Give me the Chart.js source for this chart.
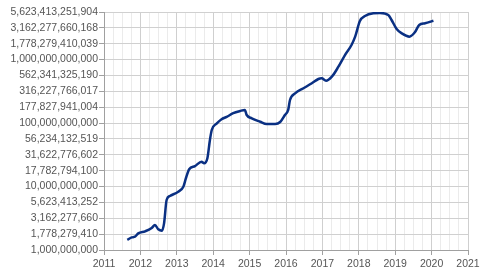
<!DOCTYPE html>
<html>
<head>
<meta charset="utf-8">
<script src="https://cdn.jsdelivr.net/npm/chart.js@4"></script>
<style>
  html, body { margin: 0; padding: 0; background: #fff; }
</style>
</head>
<body>
<canvas id="myChart" width="490" height="276"></canvas>
<script>
// decimal years
const years = [2011.64, 2011.76, 2011.85, 2011.94, 2012.13, 2012.31, 2012.40, 2012.49, 2012.59, 2012.65,
  2012.72, 2012.81, 2013.04, 2013.18, 2013.25, 2013.34, 2013.50, 2013.68, 2013.75, 2013.84,
  2013.91, 2013.96, 2014.10, 2014.23, 2014.37, 2014.55, 2014.74, 2014.87, 2014.92, 2015.06,
  2015.29, 2015.47, 2015.70, 2015.84, 2015.97, 2016.06, 2016.11, 2016.25, 2016.48, 2016.71,
  2016.89, 2016.98, 2017.10, 2017.26, 2017.44, 2017.62, 2017.80, 2017.90, 2018.03, 2018.17,
  2018.40, 2018.58, 2018.81, 2018.90, 2019.04, 2019.18, 2019.39, 2019.54, 2019.66, 2019.82, 2020.05]
const values = [1.44e9, 1.58e9, 1.62e9, 1.83e9, 1.97e9, 2.22e9, 2.48e9, 2.12e9, 2.01e9, 2.63e9,
  6.14e9, 7.1e9, 8.3e9, 9.94e9, 1.35e10, 1.87e10, 2.10e10, 2.46e10, 2.32e10, 2.79e10,
  5.41e10, 7.78e10, 9.9e10, 1.15e11, 1.25e11, 1.43e11, 1.55e11, 1.61e11, 1.34e11, 1.19e11,
  1.05e11, 9.67e10, 9.67e10, 1.04e11, 1.34e11, 1.61e11, 2.31e11, 2.94e11, 3.53e11, 4.23e11,
  4.95e11, 5.07e11, 4.65e11, 5.38e11, 7.73e11, 1.18e12, 1.70e12, 2.30e12, 4.06e12, 4.86e12,
  5.36e12, 5.42e12, 5.05e12, 4.21e12, 3.03e12, 2.59e12, 2.30e12, 2.69e12, 3.51e12, 3.73e12, 4.10e12]

const yTickLabels = ["1,000,000,000", "1,778,279,410", "3,162,277,660", "5,623,413,252",
  "10,000,000,000", "17,782,794,100", "31,622,776,602", "56,234,132,519",
  "100,000,000,000", "177,827,941,004", "316,227,766,017", "562,341,325,190",
  "1,000,000,000,000", "1,778,279,410,039", "3,162,277,660,168", "5,623,413,251,904"]
const xTickYears = [2011, 2012, 2013, 2014, 2015, 2016, 2017, 2018, 2019, 2020, 2021]

const yTickValues = yTickLabels.map(s => Number(s.replace(/,/g, '')))

const points = years.map((x, i) => ({ x: x, y: values[i] }))
const tickFont = { family: 'Liberation Sans, Arial, sans-serif', size: 10.5 }

var ctx = document.getElementById('myChart').getContext('2d');
var myChart = new Chart(ctx, {
  type: 'line',
  data: {
    datasets: [{
      data: points,
      borderColor: '#0a3083',
      borderWidth: 2.5,
      pointRadius: 0,
      cubicInterpolationMode: 'monotone',
      fill: false,
    }]
  },
  options: {
    responsive: false,
    animation: false,
    layout: { padding: { top: 12, right: 22, left: 0, bottom: 0 } },
    plugins: { legend: { display: false }, tooltip: { enabled: false } },
    scales: {
      x: {
        type: 'linear',
        min: xTickYears[0],
        max: xTickYears[xTickYears.length - 1],
        afterBuildTicks: (scale) => {
          // quarter-year grid, labels only on whole years
          const t = []
          for (let i = 0; i < xTickYears.length - 1; i++) {
            for (let q = 0; q < 4; q++) t.push({ value: xTickYears[i] + q * 0.25 })
          }
          t.push({ value: xTickYears[xTickYears.length - 1] })
          scale.ticks = t
        },
        afterFit: (scale) => { scale.height = 26 },
        grid: {
          color: (c) => Number.isInteger(c.tick && c.tick.value) ? '#cfcfcf' : '#ebebeb',
          tickColor: (c) => Number.isInteger(c.tick && c.tick.value) ? '#a0a0a0' : 'rgba(0,0,0,0)',
          tickLength: 5,
        },
        border: { color: '#a0a0a0' },
        ticks: {
          autoSkip: false,
          maxRotation: 0,
          padding: 3,
          color: '#555',
          font: tickFont,
          callback: (v) => Number.isInteger(v) ? String(v) : '',
        },
      },
      y: {
        type: 'logarithmic',
        min: yTickValues[0],
        max: yTickValues[yTickValues.length - 1],
        afterBuildTicks: (scale) => {
          scale.ticks = yTickValues.map(v => ({ value: v }))
        },
        afterFit: (scale) => { scale.width = 104 },
        grid: { color: '#d0d0d0', tickColor: '#a0a0a0', tickLength: 5 },
        border: { color: '#a0a0a0' },
        ticks: {
          autoSkip: false,
          padding: 1,
          color: '#555',
          font: tickFont,
          callback: (v, i) => yTickLabels[i],
        },
      },
    },
  },
});
</script>
</body>
</html>
